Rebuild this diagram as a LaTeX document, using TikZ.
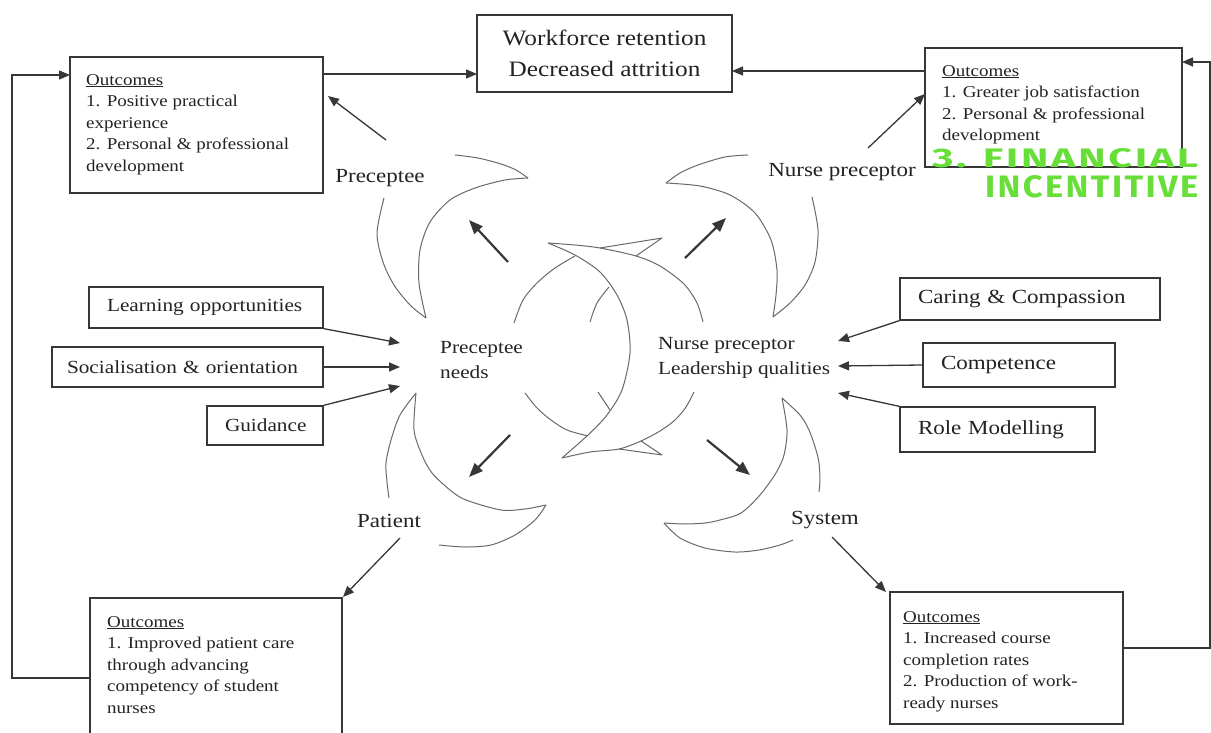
\documentclass[tikz,border=0pt]{standalone}
\usepackage{fontspec}
\setmainfont{Liberation Serif}[FakeStretch=1.15]
\newfontfamily\handfont{Fira Sans}[LetterSpace=7]
\usetikzlibrary{arrows.meta}
\definecolor{ink}{RGB}{35,35,35}
\definecolor{linegray}{RGB}{55,55,55}
\definecolor{crescent}{RGB}{105,105,105}
\definecolor{marker}{RGB}{104,222,56}
\tikzset{
  box/.style={draw=linegray, line width=1.3pt, inner ysep=0pt, inner xsep=18pt, text=ink, align=left},
  outtext/.style={anchor=north west, inner sep=0pt, align=left, font=\fontsize{16.5}{21.5}\selectfont, text=ink},
  lbl/.style={inner sep=0pt, text=ink, font=\fontsize{20}{24}\selectfont},
  lblc/.style={inner sep=0pt, text=ink, align=left, anchor=west, font=\fontsize{18.5}{25}\selectfont},
  lbox/.style={box, font=\fontsize{18.5}{22}\selectfont},
  rbox/.style={box, font=\fontsize{20}{24}\selectfont},
  conn/.style={draw=linegray, line width=1.3pt},
  arr/.style={conn, -{Triangle[length=11pt,width=9pt]}},
  bigarr/.style={draw=linegray, line width=2.2pt, -{Triangle[length=14pt,width=11pt]}},
  cres/.style={draw=crescent, line width=1pt, line join=round},
  hand/.style={inner sep=0pt, text=marker, anchor=west},
}
\begin{document}
\begin{tikzpicture}[x=1pt,y=-1pt]
\useasboundingbox[fill=white] (0,0) rectangle (1211,733);

% ---------- boxes ----------
\node[box, minimum width=253pt, minimum height=136pt] (tlbox) at (196.5,125) {};
\node[outtext] (tltext) at (86,74) {\underline{Outcomes}\\1. Positive practical\\experience\\2. Personal \& professional\\development};

\node[box, align=center, inner xsep=0pt, minimum width=255pt, minimum height=77pt, font=\fontsize{22}{31}\selectfont] (wf) at (604.5,53.5) {Workforce retention\\Decreased attrition};

\node[box, minimum width=257pt, minimum height=119pt] (trbox) at (1053.5,107.5) {};
\node[outtext] (trtext) at (942,65) {\underline{Outcomes}\\1. Greater job satisfaction\\2. Personal \& professional\\development};

\node[box, minimum width=252pt, minimum height=147pt] (blbox) at (216,671.5) {};
\node[outtext] (bltext) at (107,616) {\underline{Outcomes}\\1. Improved patient care\\through advancing\\competency of student\\nurses};

\node[box, minimum width=233pt, minimum height=132pt] (brbox) at (1006.5,658) {};
\node[outtext] (brtext) at (903,611) {\underline{Outcomes}\\1. Increased course\\completion rates\\2. Production of work-\\ready nurses};

% left input boxes
\node[lbox, text width=198pt, minimum height=41pt] (lo) at (206,307.5) {Learning opportunities};
\node[lbox, minimum height=40pt, inner xsep=15pt, text width=241pt] (so) at (187.5,367) {Socialisation \& orientation};
\node[lbox, text width=80pt, minimum height=39pt] (gu) at (265,425.5) {Guidance};

% right input boxes
\node[rbox, text width=224pt, minimum height=42pt] (cc) at (1030,299) {Caring \& Compassion};
\node[rbox, text width=156pt, minimum height=44pt] (co) at (1019,365) {Competence};
\node[rbox, text width=159pt, minimum height=45pt] (rm) at (997.5,429.5) {Role Modelling};

% ---------- labels ----------
\node[lbl] (preceptee) at (380,178) {Preceptee};
\node[lbl] (nursep) at (842,172) {Nurse preceptor};
\node[lbl] (patient) at (389,521) {Patient};
\node[lbl] (system) at (825,520) {System};
\node[lblc] (pneeds) at (440,360) {Preceptee\\needs};
\node[lblc] (nplq) at (658,358) {Nurse preceptor\\Leadership qualities};

% ---------- crescents ----------
% top-left
\draw[cres] plot[smooth] coordinates {(384,198) (377,233) (383,262) (394,285) (410,305) (426,318)};
\draw[cres] plot[smooth] coordinates {(426,318) (419,283) (420,250) (430,222) (450,200) (475,188) (505,180) (528,178)};
\draw[cres] plot[smooth] coordinates {(455,155) (478,158) (501,164) (516,170) (528,178)};
% top-right
\draw[cres] plot[smooth] coordinates {(748,155) (725,157) (698,165) (680,173) (666,183)};
\draw[cres] plot[smooth] coordinates {(666,183) (700,186) (730,195) (755,213) (771,240) (777,270) (776,295) (773,317)};
\draw[cres] plot[smooth] coordinates {(812,197) (818,230) (815,262) (805,285) (790,303) (773,317)};
% bottom-left
\draw[cres] plot[smooth] coordinates {(416,393) (400,415) (391,440) (386,463) (387,482) (389,498)};
\draw[cres] plot[smooth] coordinates {(416,393) (414,430) (422,455) (432,473) (450,490) (466,500) (501,510) (525,509) (546,505)};
\draw[cres] plot[smooth] coordinates {(439,545) (465,547) (491,545) (515,535) (535,520) (546,505)};
% bottom-right
\draw[cres] plot[smooth] coordinates {(782,398) (800,415) (809,430) (816,450) (819,463) (820,480) (819,492)};
\draw[cres] plot[smooth] coordinates {(782,398) (787,430) (784,455) (776,473) (760,495) (741,513) (720,520) (705,523) (685,524) (664,523)};
\draw[cres] plot[smooth] coordinates {(664,523) (680,538) (705,548) (735,552) (759,550) (780,545) (793,540)};
% centre
\draw[cres] plot[smooth] coordinates {(548,243) (575,255) (600,272) (617,295) (627,320) (630,353) (622,390) (607,415) (588,435) (562,458)};
\draw[cres] plot[smooth] coordinates {(548,243) (575,245) (600,248) (636,256) (660,266) (684,284) (697,303) (703,322)};
\draw[cres] (600,248) -- (662,238) -- (636,256);
\draw[cres] plot[smooth] coordinates {(514,323) (523,300) (537,283) (555,268) (575,256)};
\draw[cres] plot[smooth] coordinates {(525,393) (537,408) (551,420) (567,430) (588,436)};
\draw[cres] plot[smooth] coordinates {(590,322) (597,303) (609,287)};
\draw[cres] (598,392) -- (610,410);
\draw[cres] plot[smooth] coordinates {(562,458) (590,452) (619,449) (641,441) (660,431) (675,420) (686,407) (694,392)};
\draw[cres] (619,449) -- (662,455) -- (641,441);

% ---------- coordinates ----------
\coordinate (a1s) at (386,140); \coordinate (a1e) at (328,96);
\coordinate (a2s) at (868,148); \coordinate (a2e) at (925,94);
\coordinate (a3s) at (400,538); \coordinate (a3e) at (343,597);
\coordinate (a4s) at (832,537); \coordinate (a4e) at (886,592);
\coordinate (c1s) at (508,262); \coordinate (c1e) at (469,220);
\coordinate (c2s) at (685,258); \coordinate (c2e) at (726,218);
\coordinate (c3s) at (510,435); \coordinate (c3e) at (469,477);
\coordinate (c4s) at (707,440); \coordinate (c4e) at (750,475);
\coordinate (pn1) at (400,343); \coordinate (pn2) at (400,367); \coordinate (pn3) at (400,386);
\coordinate (nl1) at (838,341); \coordinate (nl2) at (838,366); \coordinate (nl3) at (838,393);
\coordinate (tlo) at (323,74); \coordinate (wfl) at (477,74);
\coordinate (tro) at (925,71); \coordinate (wfr) at (732,71);
\coordinate (lp1) at (90,678); \coordinate (lp2) at (12,678); \coordinate (lp3) at (12,75); \coordinate (lp4) at (70,75);
\coordinate (rp1) at (1123,648); \coordinate (rp2) at (1210,648); \coordinate (rp3) at (1210,62); \coordinate (rp4) at (1182,62);

% ---------- connectors ----------
\draw[arr] (tlo) -- (wfl);
\draw[arr] (tro) -- (wfr);
\draw[arr] (lp1) -- (lp2) -- (lp3) -- (lp4);
\draw[arr] (rp1) -- (rp2) -- (rp3) -- (rp4);
\draw[arr] (a1s) -- (a1e);
\draw[arr] (a2s) -- (a2e);
\draw[arr] (a3s) -- (a3e);
\draw[arr] (a4s) -- (a4e);
\draw[arr] (lo.south east) -- (pn1);
\draw[arr] (so.east) -- (pn2);
\draw[arr] (gu.north east) -- (pn3);
\draw[arr] (cc.south west) -- (nl1);
\draw[arr] (co.west) -- (nl2);
\draw[arr] (rm.north west) -- (nl3);
\draw[bigarr] (c1s) -- (c1e);
\draw[bigarr] (c2s) -- (c2e);
\draw[bigarr] (c3s) -- (c3e);
\draw[bigarr] (c4s) -- (c4e);

% ---------- handwriting ----------
\node[hand] (fin1) at (932,158) {\resizebox{266pt}{19pt}{\handfont\bfseries 3. FINANCIAL}};
\node[hand] (fin2) at (985,187) {\resizebox{213pt}{22pt}{\handfont\bfseries INCENTITIVE}};
\end{tikzpicture}
\end{document}
